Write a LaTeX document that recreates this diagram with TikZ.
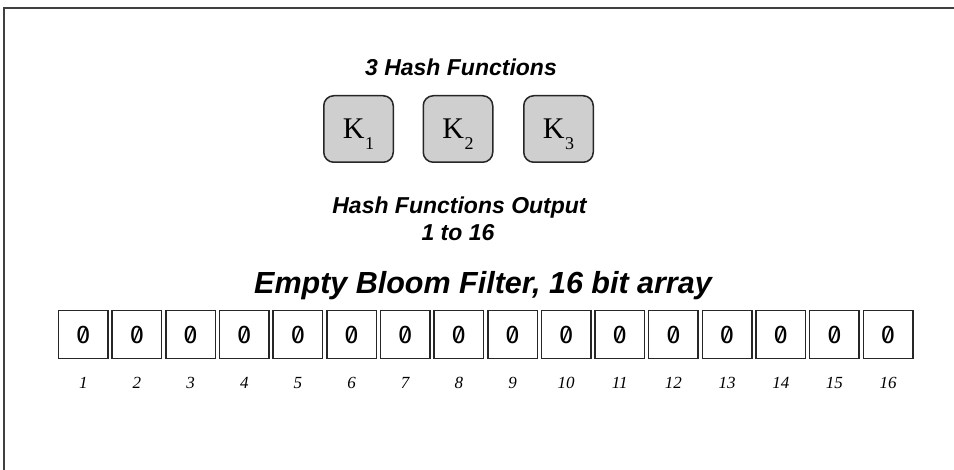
\documentclass[tikz,border=0pt]{standalone}
\usepackage{fontspec}
\setmainfont{Liberation Serif}
\newfontfamily\hsans{Liberation Sans}
\newfontfamily\monofnt[RawFeature=+zero]{Fira Sans}
\begin{document}
\begin{tikzpicture}[x=1pt,y=-1pt,
  titletext/.style={font=\hsans\bfseries\itshape\fontsize{23}{27}\selectfont, anchor=base, inner sep=0pt},
  bigtitle/.style={font=\hsans\bfseries\itshape\fontsize{30.5}{34}\selectfont, anchor=base, inner sep=0pt},
  hashbox/.style={draw=black!85, line width=1.5pt, fill=gray!38, rounded corners=10pt,
    minimum width=69.5pt, minimum height=66.5pt, inner sep=0pt, text height=20pt, text depth=0pt,
    font=\fontsize{30}{30}\selectfont},
  bitbox/.style={draw=black!85, line width=1.5pt, minimum width=49.5pt, minimum height=48pt,
    inner sep=0pt, font=\monofnt\fontsize{25.5}{25.5}\selectfont},
  idx/.style={font=\itshape\fontsize{17}{17}\selectfont, anchor=base, inner sep=0pt}
]
\useasboundingbox (0,0) rectangle (954,470);
\draw[line width=1.2pt, draw=black!75] (954,8) -- (4,8) -- (4,470);

\node[titletext] (hashtitle) at (461,76) {3 Hash Functions};
\newcommand{\ksub}[1]{K\hspace{0.5pt}{\fontsize{18}{18}\selectfont\raisebox{-11pt}{#1}}}
\node[hashbox] (k1) at (358.5,129) {\ksub{1}};
\node[hashbox] (k2) at (458,129) {\ksub{2}};
\node[hashbox] (k3) at (558.5,129) {\ksub{3}};

\node[titletext] (out1) at (459.5,213.5) {Hash Functions Output};
\node[titletext] (out2) at (458,240.5) {1 to 16};

\node[bigtitle] (arraytitle) at (483,293.5) {Empty Bloom Filter, 16 bit array};

\foreach \i in {1,...,16} {
  \node[bitbox] (b\i) at ({83.3+(\i-1)*53.65},334.7) {0};
  \node[idx] (n\i) at ({83.3+(\i-1)*53.65},389) {\i};
}
\end{tikzpicture}
\end{document}
